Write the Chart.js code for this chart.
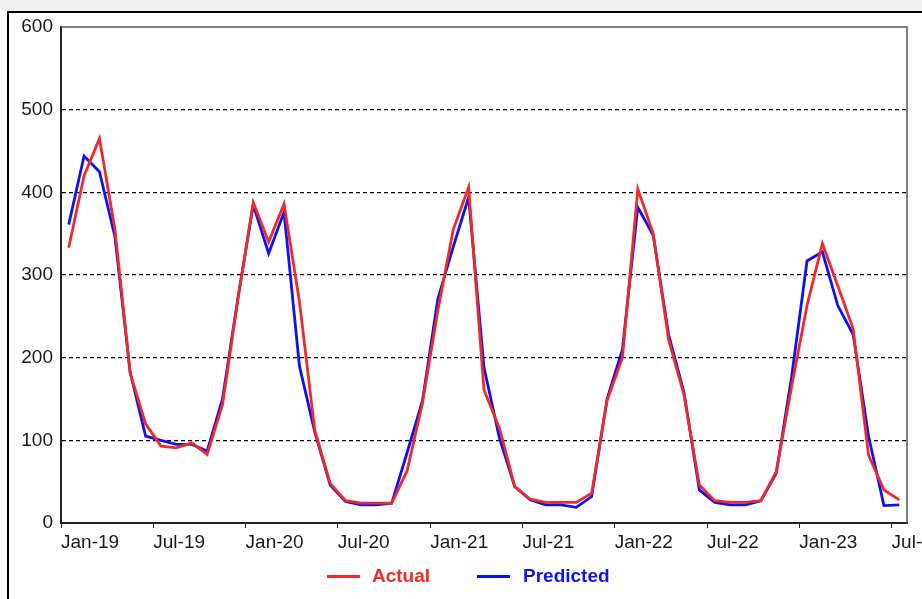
<!DOCTYPE html>
<html>
<head>
<meta charset="utf-8">
<script src="https://cdn.jsdelivr.net/npm/chart.js@4"></script>
<style>
  html, body { margin: 0; padding: 0; width: 922px; height: 599px; overflow: hidden; background: #fff; font-family: "Liberation Sans", Arial, sans-serif; }
  .topband { position: absolute; left: 0; top: 0; width: 922px; height: 11px; background: #efefef; }
  .frame { position: absolute; left: 7px; top: 11px; width: 1000px; height: 1000px; border-top: 2px solid #000; border-left: 2px solid #000; }
  .wrap { position: absolute; left: 0; top: 0; width: 922px; height: 599px; }
  .legend { position: absolute; left: 0; top: 0; }
  .legend .swatch { position: absolute; height: 3px; width: 33px; top: 575px; }
  .legend .lbl { position: absolute; top: 566px; font: bold 19px/19px "Liberation Sans", Arial, sans-serif; white-space: nowrap; }
</style>
</head>
<body>
<div class="topband"></div>
<div class="frame"></div>
<div class="wrap"><canvas id="fcChart"></canvas></div>
<div class="legend">
  <div class="swatch" style="left:327px;background:#ee2a2a"></div>
  <span class="lbl" style="left:372px;color:#ee2a2a">Actual</span>
  <div class="swatch" style="left:477px;background:#1111ee"></div>
  <span class="lbl" style="left:523px;color:#1111ee">Predicted</span>
</div>
<script>
// monthly series, Jan-19 .. Jul-23
const tickLabels = ['Jan-19', 'Jul-19', 'Jan-20', 'Jul-20', 'Jan-21', 'Jul-21', 'Jan-22', 'Jul-22', 'Jan-23', 'Jul-23'];

const actual = [
  333, 420, 465, 356, 181, 120, 93, 91, 97, 83,
  143, 270, 388, 340, 386, 268, 112, 48, 27, 24,
  24, 24, 63, 145, 257, 355, 406, 161, 115, 44,
  29, 25, 25, 25, 36, 148, 200, 404, 350, 222,
  155, 46, 27, 25, 25, 27, 62, 165, 263, 338,
  287, 235, 82, 40, 28
];

const predicted = [
  361, 444, 425, 347, 182, 105, 100, 95, 95, 87,
  150, 272, 385, 326, 376, 190, 110, 46, 26, 22,
  22, 24, 85, 148, 271, 334, 394, 188, 103, 44,
  28, 22, 22, 19, 32, 150, 210, 382, 348, 228,
  158, 40, 25, 22, 22, 27, 60, 177, 317, 328,
  263, 228, 105, 21, 22
];

const RED = '#ee2a2a';
const BLUE = '#1111ee';

// points sit mid-month
const toPoints = (arr) => arr.map((v, i) => ({ x: i + 0.5, y: v }));

// thin gray top + right edge of the plot box
const plotFrame = {
  id: 'plotFrame',
  afterDraw(chart) {
    const { ctx, chartArea: a } = chart;
    ctx.save();
    ctx.strokeStyle = '#555';
    ctx.lineWidth = 1.5;
    ctx.beginPath();
    ctx.moveTo(a.left, a.top);
    ctx.lineTo(a.right, a.top);
    ctx.lineTo(a.right, a.bottom);
    ctx.stroke();
    ctx.restore();
  }
};

new Chart(document.getElementById('fcChart'), {
  type: 'line',
  data: {
    datasets: [
      { label: 'Actual', data: toPoints(actual), borderColor: RED, backgroundColor: RED, borderWidth: 2.8, pointRadius: 0, tension: 0 },
      { label: 'Predicted', data: toPoints(predicted), borderColor: BLUE, backgroundColor: BLUE, borderWidth: 2.8, pointRadius: 0, tension: 0 }
    ]
  },
  options: {
    responsive: true,
    maintainAspectRatio: false,
    animation: false,
    events: [],
    layout: { padding: { top: 27, right: 15, left: 0, bottom: 0 } },
    plugins: { legend: { display: false }, tooltip: { enabled: false } },
    scales: {
      x: {
        type: 'linear',
        min: 0,
        max: 55,
        afterFit: (s) => { s.paddingLeft = 0; s.paddingRight = 0; s.height = 76; },
        grid: { drawOnChartArea: false, drawTicks: true, tickLength: 5, color: '#222', lineWidth: 1 },
        border: { color: '#222', width: 2 },
        ticks: {
          stepSize: 6,
          includeBounds: false,
          autoSkip: false,
          maxRotation: 0,
          align: 'start',
          padding: 3,
          color: '#1a1a1a',
          font: { family: '"Liberation Sans", Arial, sans-serif', size: 19 },
          callback: (v) => tickLabels[v / 6]
        }
      },
      y: {
        min: 0,
        max: 600,
        afterFit: (s) => { s.width = 61; },
        grid: {
          drawTicks: false,
          lineWidth: 1.2,
          color: (c) => (c.tick && (c.tick.value === 0 || c.tick.value === 600)) ? 'rgba(0,0,0,0)' : '#000'
        },
        border: { color: '#222', width: 2, dash: [4, 3] },
        ticks: {
          stepSize: 100,
          padding: 8,
          color: '#1a1a1a',
          font: { family: '"Liberation Sans", Arial, sans-serif', size: 19 }
        }
      }
    }
  },
  plugins: [plotFrame]
});
</script>
</body>
</html>
